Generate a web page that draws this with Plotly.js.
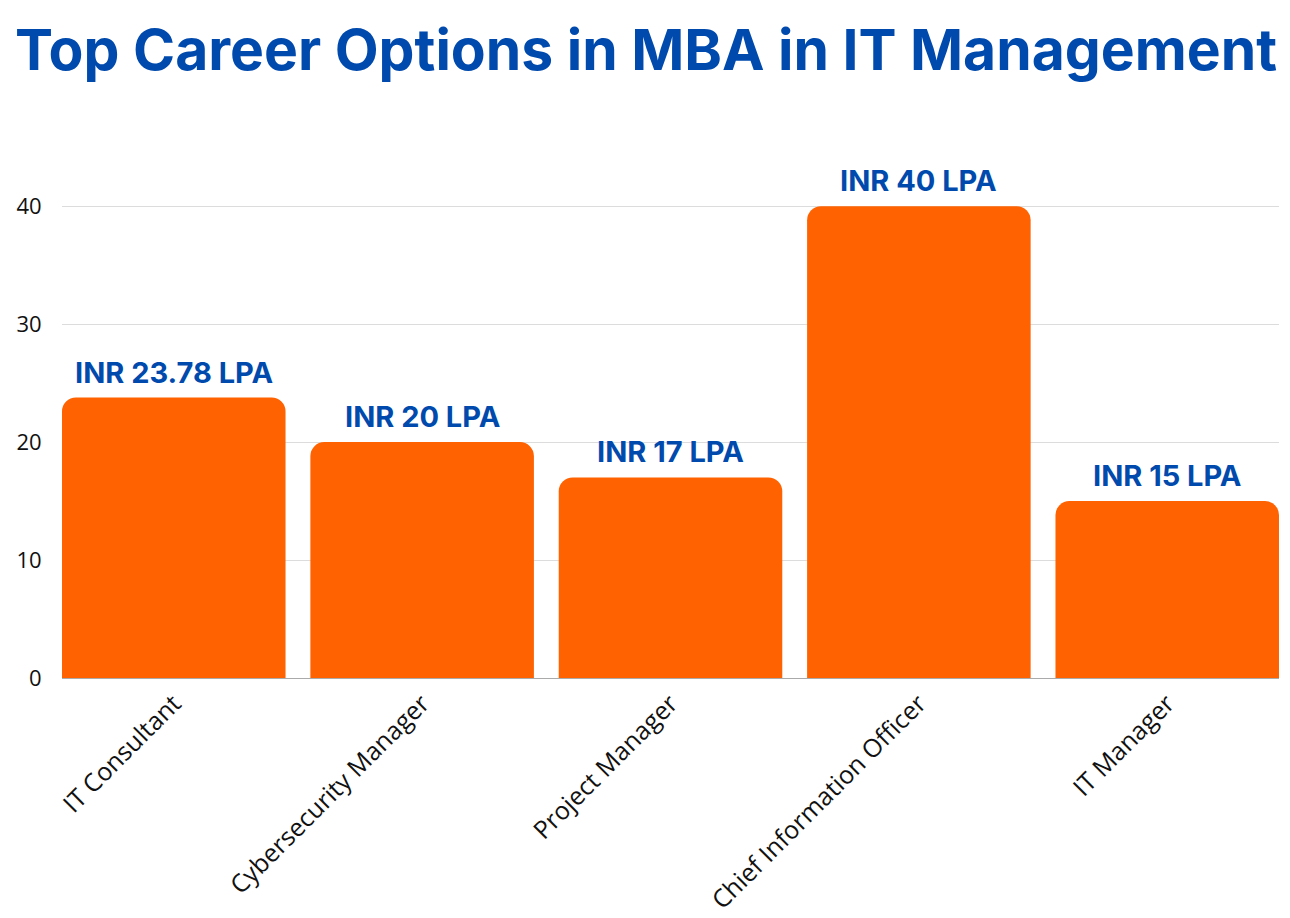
<!DOCTYPE html>
<html>
<head>
<meta charset="utf-8">
<script src="https://cdn.plot.ly/plotly-3.0.1.min.js"></script>
<style>html,body{margin:0;padding:0;background:#fff;}#chart{width:1290px;height:918px;}</style>
</head>
<body>
<div id="chart"></div>
<script>
const categories = ["IT Consultant", "Cybersecurity Manager", "Project Manager", "Chief Information Officer", "IT Manager"];
const salaries = [23.78, 20, 17, 40, 15];
const labels = ["INR 23.78 LPA", "INR 20 LPA", "INR 17 LPA", "INR 40 LPA", "INR 15 LPA"];
const yTicks = [0, 10, 20, 30, 40];

const trace = {
  type: "bar",
  x: categories,
  y: salaries,
  marker: {color: "#FF6200", cornerradius: 14},
  hoverinfo: "skip"
};

const annotations = categories.map((c, i) => ({
  x: c, y: salaries[i], xref: "x", yref: "y",
  text: labels[i], showarrow: false,
  yanchor: "bottom", yshift: 6,
  font: {family: "Inter, 'Open Sans', sans-serif", size: 29, color: "#004AAD", weight: 700}
}));

const layout = {
  width: 1290, height: 918,
  paper_bgcolor: "#fff", plot_bgcolor: "#fff",
  margin: {l: 62, r: 11, t: 159, b: 240},
  title: {
    text: "<b>Top Career Options in MBA in IT Management</b>",
    x: 15 / 1290, xanchor: "left", xref: "container",
    y: 0.967, yanchor: "top", yref: "container",
    font: {family: "Inter, 'Open Sans', sans-serif", size: 57, color: "#004AAD"}
  },
  bargap: 0.1,
  showlegend: false,
  xaxis: {
    range: [-0.45, 4.45],
    tickangle: -45,
    tickfont: {family: "'Open Sans', 'Noto Sans', sans-serif", size: 25, color: "#111"},
    showline: true, linecolor: "#aaa", linewidth: 1,
    ticks: "", showgrid: false, zeroline: false
  },
  yaxis: {
    range: [0, 44],
    tickvals: yTicks,
    ticktext: yTicks.map(String),
    tickfont: {family: "'Open Sans', 'Noto Sans', sans-serif", size: 22, color: "#111"},
    showgrid: true, gridcolor: "#dcdcdc", gridwidth: 1,
    zeroline: false, showline: false,
    ticks: "outside", ticklen: 15, tickcolor: "rgba(0,0,0,0)"
  },
  annotations: annotations
};

Plotly.newPlot("chart", [trace], layout, {displayModeBar: false, staticPlot: true});
</script>
</body>
</html>
